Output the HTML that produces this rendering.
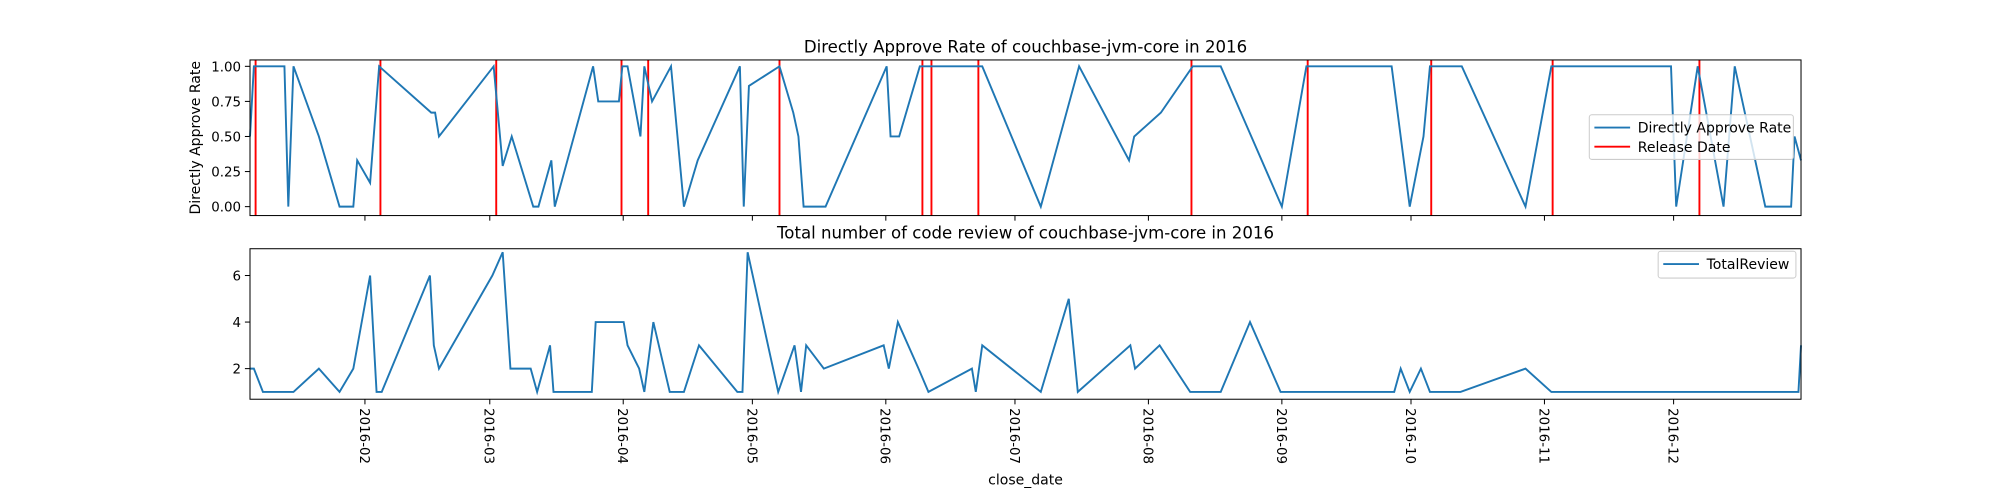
<!DOCTYPE html>
<html><head><meta charset="utf-8"><style>html,body{margin:0;padding:0;background:#fff}svg{display:block}</style></head>
<body>
<svg id="chart" width="2000" height="500" viewBox="0 0 1568 392" font-family="'DejaVu Sans','Liberation Sans',sans-serif"></svg>
<script>
const rateDays=[4.3,5.2,12.3,13.2,14.4,20.3,25.1,28.3,29.2,32.2,34.3,46.4,47.3,48.2,60.9,63.0,65.1,70.1,71.3,74.3,75.1,84.0,85.2,90.0,90.8,92.0,95.0,95.9,97.7,102.1,105.1,108.3,118.1,119.0,120.2,127.3,130.5,131.7,132.9,138.0,152.2,153.1,155.1,159.9,174.4,188.0,196.9,208.5,209.7,215.9,223.3,229.8,244.0,249.7,269.5,273.7,276.9,278.4,285.8,300.6,306.6,334.4,335.6,340.6,346.6,349.2,356.3,362.3,363.1,364.6];
const rateVals=[0.5,1,1,0,1,0.5,0,0,0.33,0.17,1,0.67,0.67,0.5,1,0.29,0.5,0,0,0.33,0,1,0.75,0.75,1,1,0.5,1,0.75,1,0,0.33,1,0,0.86,1,0.67,0.5,0,0,1,0.5,0.5,1,1,0,1,0.33,0.5,0.67,1,1,0,1,1,0,0.5,1,1,0,1,1,0,1,0,1,0,0,0.5,0.33];
const releaseDays=[5.6,34.6,61.5,90.6,96.8,127.3,160.5,162.6,173.5,223.0,250.0,278.7,306.9,341.0];
const revDays=[4.3,5.2,7.3,14.4,20.3,25.1,28.3,32.2,33.7,34.9,46.1,47.0,48.2,60.6,63.0,64.8,69.5,71.0,74.0,74.8,83.7,84.6,91.1,92.0,94.7,95.9,98.0,101.8,105.1,108.6,117.5,118.7,119.9,127.0,130.8,132.3,133.5,137.6,151.5,152.7,154.8,159.6,161.9,172.0,172.9,174.4,188.0,194.5,196.6,208.8,209.9,215.6,222.7,229.8,236.6,243.7,270.1,271.6,273.7,276.3,278.4,285.5,300.6,306.6,364.0,364.6];
const revVals=[2,2,1,1,2,1,2,6,1,1,6,3,2,6,7,2,2,1,3,1,1,4,4,3,2,1,4,1,1,3,1,1,7,1,3,1,3,2,3,2,4,2,1,2,1,3,1,5,1,3,2,3,1,1,4,1,1,2,1,2,1,1,2,1,1,3];
const monthLabels=["2016-02","2016-03","2016-04","2016-05","2016-06","2016-07","2016-08","2016-09","2016-10","2016-11","2016-12"];
const monthDays=[31,60,91,121,152,182,213,244,274,305,335];
const rateTicks=[0,0.25,0.5,0.75,1];
const revTicks=[2,4,6];

const svg=document.getElementById('chart');
const NS='http://www.w3.org/2000/svg';
function mk(tag,at,parent){const e=document.createElementNS(NS,tag);for(const k in at)e.setAttribute(k,at[k]);(parent||svg).appendChild(e);return e;}
const X0=196,X1=1412,D0=4.3,D1=364.6;
const xs=d=>X0+(d-D0)/(D1-D0)*(X1-X0);
const yTop=v=>162-110*v;
const yBot=v=>325.5-18.25*v;
const blue='#1f77b4';

let t=mk('text',{x:804,y:41,'text-anchor':'middle','font-size':13});t.textContent='Directly Approve Rate of couchbase-jvm-core in 2016';


t=mk('text',{x:804,y:187,'text-anchor':'middle','font-size':13});t.textContent='Total number of code review of couchbase-jvm-core in 2016';


t=mk('text',{x:157,y:108,'text-anchor':'middle','font-size':11,transform:'rotate(-90 157 108)'});t.textContent='Directly Approve Rate';


t=mk('text',{x:804,y:380,'text-anchor':'middle','font-size':11});t.textContent='close_date';



rateTicks.forEach(v=>{const y=yTop(v);mk('line',{x1:192,x2:196,y1:y,y2:y,stroke:'#000','stroke-width':0.8});
 const l=mk('text',{x:189,y:y+4,'text-anchor':'end','font-size':10.5});l.textContent=v.toFixed(2);
 
 });
revTicks.forEach(v=>{const y=yBot(v);mk('line',{x1:192,x2:196,y1:y,y2:y,stroke:'#000','stroke-width':0.8});
 const l=mk('text',{x:189,y:y+4,'text-anchor':'end','font-size':10.5});l.textContent=v;
 
 });
monthDays.forEach((d,i)=>{const x=xs(d);
 mk('line',{x1:x,x2:x,y1:169,y2:173,stroke:'#000','stroke-width':0.8});
 mk('line',{x1:x,x2:x,y1:313,y2:317,stroke:'#000','stroke-width':0.8});
 const lx=x-4;
 const l=mk('text',{x:lx,y:320,'font-size':10.5,transform:`rotate(90 ${lx} 320)`,'text-anchor':'start'});l.textContent=monthLabels[i];
 
 });

releaseDays.forEach(d=>{const x=xs(d);const l=mk('line',{x1:x,x2:x,y1:47,y2:169,stroke:'#ff0000','stroke-width':1.5});
 
 });
let p=mk('polyline',{points:rateDays.map((d,i)=>xs(d)+','+yTop(rateVals[i])).join(' '),fill:'none',stroke:blue,'stroke-width':1.5});


p=mk('polyline',{points:revDays.map((d,i)=>xs(d)+','+yBot(revVals[i])).join(' '),fill:'none',stroke:blue,'stroke-width':1.5});



let f=mk('rect',{x:196,y:47,width:1216,height:122,fill:'none',stroke:'#000','stroke-width':0.8});


f=mk('rect',{x:196,y:195,width:1216,height:118,fill:'none',stroke:'#000','stroke-width':0.8});



let g=mk('g',{});
mk('rect',{x:1246,y:90,width:160,height:35,fill:'#fff','fill-opacity':0.8,stroke:'#ccc','stroke-width':0.8,rx:2},g);
mk('line',{x1:1250,x2:1278,y1:100,y2:100,stroke:blue,'stroke-width':1.5},g);
t=mk('text',{x:1284,y:104,'font-size':11},g);t.textContent='Directly Approve Rate';

mk('line',{x1:1250,x2:1278,y1:115,y2:115,stroke:'#ff0000','stroke-width':1.5},g);
t=mk('text',{x:1284,y:119,'font-size':11},g);t.textContent='Release Date';

g=mk('g',{});
mk('rect',{x:1300,y:197,width:108,height:21,fill:'#fff','fill-opacity':0.8,stroke:'#ccc','stroke-width':0.8,rx:2},g);
mk('line',{x1:1304,x2:1332,y1:207,y2:207,stroke:blue,'stroke-width':1.5},g);
t=mk('text',{x:1338,y:211,'font-size':11},g);t.textContent='TotalReview';

</script>
</body></html>
